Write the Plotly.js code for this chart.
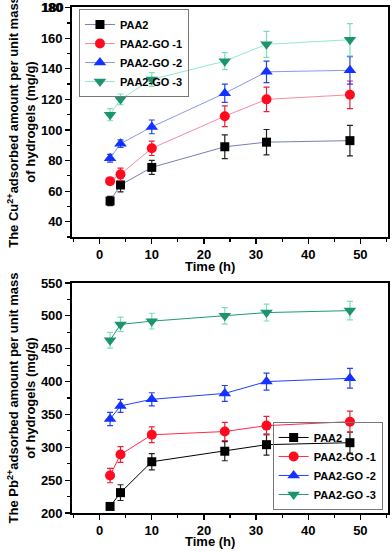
<!DOCTYPE html>
<html>
<head>
<meta charset="utf-8">
<script src="https://cdn.plot.ly/plotly-3.0.1.min.js"></script>
<style>
  html, body { margin: 0; padding: 0; background: #fff; }
  #chart { width: 392px; height: 551px; }
</style>
</head>
<body>
<div id="chart"></div>
<script>
const seriesNames = ["PAA2", "PAA2-GO -1", "PAA2-GO -2", "PAA2-GO -3"];
const time = [2, 4, 10, 24, 32, 48];
const cuTicks = [40, 60, 80, 100, 120, 140, 160, 180];
const pbTicks = [200, 250, 300, 350, 400, 450, 500, 550];

// Cu2+ adsorption (mg/g)
const cuPAA2 = [53.5, 64, 75.5, 89, 92, 93];
const cuPAA2Err = [3, 4.5, 4.6, 7.8, 8.3, 10];
const cuGO1 = [66.5, 71, 88, 109, 120, 123];
const cuGO1Err = [2, 4, 4.7, 6.8, 8, 9];
const cuGO2 = [81.5, 91, 102, 124, 138, 139];
const cuGO2Err = [2.5, 2.5, 4.5, 6, 7, 9];
const cuGO3 = [110, 120, 133, 145, 156, 159];
const cuGO3Err = [4, 3.5, 4.5, 5.5, 8.5, 10.5];

// Pb2+ adsorption (mg/g)
const pbPAA2 = [210, 231, 278, 294, 304, 307];
const pbPAA2Err = [5, 12, 12.5, 14.5, 16, 16];
const pbGO1 = [257, 289, 319, 324, 333, 339];
const pbGO1Err = [11, 12, 12, 14, 14, 16];
const pbGO2 = [343, 363, 373, 382, 400, 405];
const pbGO2Err = [10, 10, 10, 12, 13, 15];
const pbGO3 = [463, 487, 492, 500, 505, 508];
const pbGO3Err = [12, 11, 12, 12.5, 12.8, 14];

const markerSyms = ["square", "circle", "triangle-up", "triangle-down"];
const markerSizes = [9, 10, 11, 11];
const markerCols = ["#000000", "#ff0a1e", "#1432ff", "#1c9470"];
const errCols = ["#222222", "#e8203a", "#2a40e8", "#80e0b4"];
const topLineCols = ["#7480b8", "#f58ca0", "#8c98ee", "#92eac4"];
const botLineCols = ["#000000", "#ff2a4a", "#2040ff", "#1c9a72"];

function mk(i, y, err, xa, ya, lineCol, legend) {
  return {
    x: time, y: y, name: seriesNames[i], type: "scatter", mode: "lines+markers",
    xaxis: xa, yaxis: ya, legend: legend,
    line: { color: lineCol, width: 1 },
    marker: { symbol: markerSyms[i], size: markerSizes[i], color: markerCols[i] },
    error_y: { type: "data", array: err, color: errCols[i], thickness: 1.2, width: 3 },
  };
}

const traces = [
  mk(0, cuPAA2, cuPAA2Err, "x", "y", topLineCols[0], "legend"),
  mk(1, cuGO1, cuGO1Err, "x", "y", topLineCols[1], "legend"),
  mk(2, cuGO2, cuGO2Err, "x", "y", topLineCols[2], "legend"),
  mk(3, cuGO3, cuGO3Err, "x", "y", topLineCols[3], "legend"),
  mk(0, pbPAA2, pbPAA2Err, "x2", "y2", botLineCols[0], "legend2"),
  mk(1, pbGO1, pbGO1Err, "x2", "y2", botLineCols[1], "legend2"),
  mk(2, pbGO2, pbGO2Err, "x2", "y2", botLineCols[2], "legend2"),
  mk(3, pbGO3, pbGO3Err, "x2", "y2", botLineCols[3], "legend2"),
];

const fam = "Liberation Sans, Arial, sans-serif";
const fnt = { family: fam, size: 13, color: "#000", weight: "bold" };
const xr = [-5.3, 55.3];

function xax(anchor) {
  return {
    anchor: anchor, range: xr, dtick: 10, tick0: 0,
    showline: true, linecolor: "#000", linewidth: 1.8, mirror: true,
    ticks: "outside", ticklen: 5, tickwidth: 1.2, tickcolor: "#000",
    minor: { dtick: 5, ticks: "outside", ticklen: 3, tickcolor: "#000" },
    showgrid: false, zeroline: false, tickfont: fnt,
  };
}
function yax(anchor, domain, range, tickvals, titleText) {
  const step = tickvals[1] - tickvals[0];
  return {
    anchor: anchor, domain: domain, range: range,
    tickmode: "array", tickvals: tickvals, ticktext: tickvals.map(String),
    showline: true, linecolor: "#000", linewidth: 1.8, mirror: true,
    ticks: "outside", ticklen: 5, tickwidth: 1.2, tickcolor: "#000",
    minor: { tickmode: "linear", tick0: 0, dtick: step / 2, ticks: "outside", ticklen: 3, tickcolor: "#000" },
    showgrid: false, zeroline: false, tickfont: fnt, ticklabeloverflow: "allow",
    title: { text: titleText, font: { ...fnt, size: 13 }, standoff: 2 },
  };
}

const legendBase = {
  font: { family: fam, size: 11, color: "#000", weight: "bold" },
  bgcolor: "rgba(255,255,255,0)", bordercolor: "#777", borderwidth: 1,
  tracegroupgap: 0, itemwidth: 30, xanchor: "left",
};

const layout = {
  width: 392, height: 551,
  margin: { l: 72, r: 4, t: 7, b: 38 },
  paper_bgcolor: "#fff", plot_bgcolor: "#fff",
  showlegend: true,
  xaxis: xax("y"),
  yaxis: yax("x", [0.5455, 1], [30, 180.4], cuTicks,
    "The Cu<sup>2+</sup>adsorbed amount per unit mass<br>of hydrogels (mg/g)"),
  xaxis2: xax("y2"),
  yaxis2: yax("x2", [0, 0.4545], [200, 550], pbTicks,
    "The Pb<sup>2+</sup>adsorbed amount per unit mass<br>of hydrogels (mg/g)"),
  legend: { ...legendBase, x: 0.022, y: 0.996, yanchor: "top" },
  legend2: { ...legendBase, x: 0.635, y: 0.006, yanchor: "bottom" },
  annotations: [
    { text: "Time (h)", xref: "paper", yref: "paper", x: 0.437, y: 0.488,
      xanchor: "center", yanchor: "middle", showarrow: false, font: fnt },
    { text: "Time (h)", xref: "paper", yref: "paper", x: 0.437, y: -0.0745,
      xanchor: "center", yanchor: "bottom", showarrow: false, font: fnt },
    // top tick label of the Cu axis, which Plotly drops at the panel edge
    { text: String(cuTicks[cuTicks.length - 1]), xref: "x domain", yref: "y",
      x: -0.022, y: cuTicks[cuTicks.length - 1], xanchor: "right", yanchor: "middle",
      showarrow: false, font: fnt, borderpad: 0 },
  ],
};

Plotly.newPlot("chart", traces, layout, { displayModeBar: false, staticPlot: true });
</script>
</body>
</html>
